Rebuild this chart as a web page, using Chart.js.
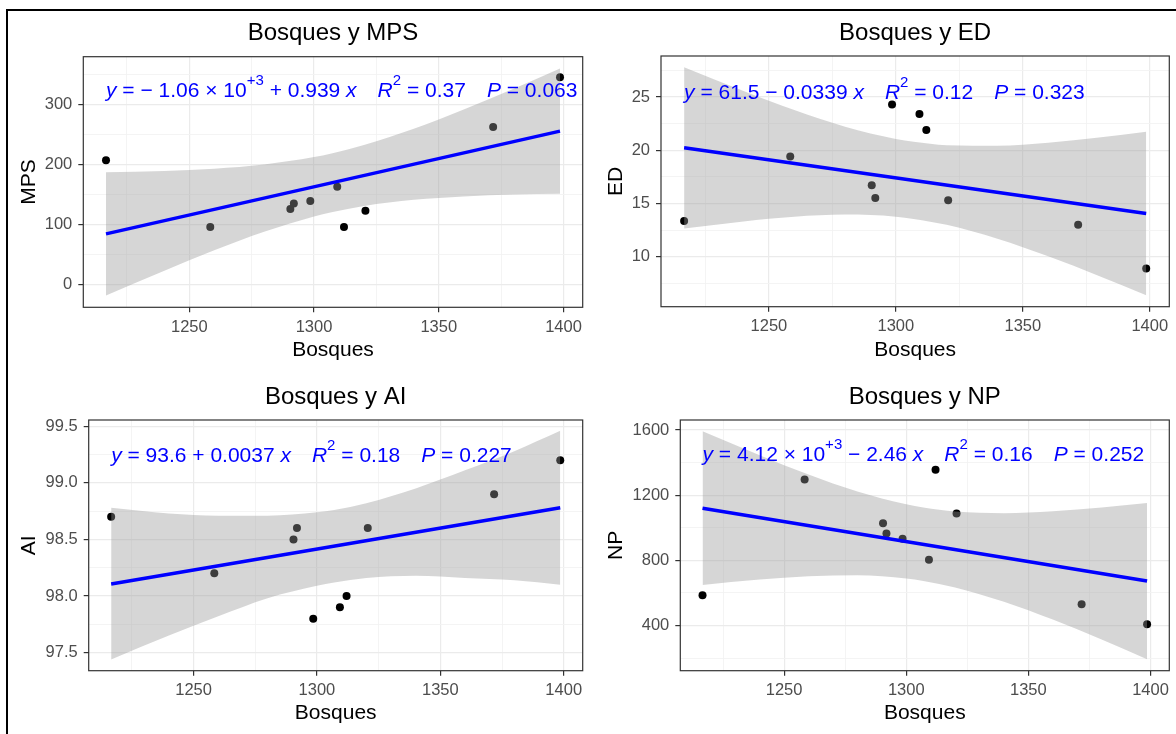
<!DOCTYPE html>
<html>
<head>
<meta charset="utf-8">
<script src="https://cdn.jsdelivr.net/npm/chart.js@4/dist/chart.umd.min.js"></script>
<style>
  body { margin: 0; background: #fff; }
  #page { position: relative; width: 1176px; height: 734px; overflow: hidden; background: #fff; }
  #frame { position: absolute; left: 6px; top: 9px; right: 0; bottom: 0;
           border-top: 2px solid #000; border-left: 2px solid #000; }
  canvas { position: absolute; }
</style>
</head>
<body>
<div id="page">
  <div id="frame"></div>
  <canvas id="c1" width="580" height="360" style="left:8px;top:12px"></canvas>
  <canvas id="c2" width="584" height="360" style="left:592px;top:12px"></canvas>
  <canvas id="c3" width="580" height="358" style="left:8px;top:376px"></canvas>
  <canvas id="c4" width="584" height="358" style="left:592px;top:376px"></canvas>
</div>
<script>
/******************** 1. DATA ********************/
const bosques = [1216.6, 1258.4, 1290.5, 1291.9, 1298.5, 1309.3, 1312, 1320.6, 1371.8, 1398.6];

const mps = [207, 96, 126, 135, 139, 163, 96, 123, 262, 345];
const ed  = [13.35, 19.4, 16.7, 15.5, 24.3, 23.4, 21.9, 15.3, 13.0, 8.9];
const ai  = [98.7, 98.2, 98.5, 98.6, 97.8, 97.9, 98.0, 98.6, 98.9, 99.2];
const np  = [585, 1296, 1027, 964, 933, 804, 1356, 1087, 530, 408];

// fitted line ends (read at first and last Bosques value)
const lineX = [1216.6, 1398.6];
const mpsLine = [84.5, 255.3];
const edLine  = [20.23, 14.06];
const aiLine  = [98.106, 98.78];
const npLine  = [1120, 673];

// confidence band
const bandX = [1216.6, 1240, 1260, 1280, 1300, 1307, 1320, 1340, 1360, 1380, 1398.6];
const mpsUpper = [187.0, 189.2, 192.9, 199.8, 212.1, 218.1, 232.1, 259.2, 291.2, 325.7, 359.5];
const mpsLower = [-17.7, 23.4, 57.3, 88.0, 113.3, 120.3, 130.9, 141.2, 146.8, 149.9, 151.2];
const edUpper  = [27.79, 25.57, 23.77, 22.21, 21.06, 20.79, 20.47, 20.42, 20.71, 21.19, 21.74];
const edLower  = [12.65, 13.31, 13.75, 13.95, 13.76, 13.55, 12.99, 11.68, 10.03, 8.19, 6.37];
const aiUpper  = [98.78, 98.73, 98.71, 98.71, 98.74, 98.76, 98.82, 98.95, 99.11, 99.28, 99.46];
const aiLower  = [97.44, 97.65, 97.82, 97.98, 98.09, 98.12, 98.16, 98.18, 98.16, 98.14, 98.10];
const npUpper  = [1591.8, 1445.5, 1326.7, 1222.5, 1143.6, 1124.2, 1100.0, 1089.6, 1100.8, 1124.2, 1151.7];
const npLower  = [648.8, 681.9, 702.3, 708.1, 688.6, 673.8, 633.8, 545.8, 436.2, 314.4, 193.5];

// ticks
const xMajor = [1250, 1300, 1350, 1400];
const xMinor = [1225, 1275, 1325, 1375];
const mpsMajor = [0, 100, 200, 300];
const mpsMinor = [50, 150, 250, 350];
const edMajor = [10, 15, 20, 25];
const edMinor = [7.5, 12.5, 17.5, 22.5, 27.5];
const aiMajor = [97.5, 98, 98.5, 99, 99.5];
const aiMinor = [97.75, 98.25, 98.75, 99.25];
const npMajor = [400, 800, 1200, 1600];
const npMinor = [200, 600, 1000, 1400];

// equation labels: [text, style]  n = normal, i = italic, s = superscript, g = gap
const mpsEq = [['y','i'],[' = \u2212 1.06 \u00d7 10','n'],['+3','s'],[' + 0.939 ','n'],['x','i'],['','g'],
               ['R','i'],['2','s'],[' = 0.37','n'],['','g'],['P','i'],[' = 0.063','n']];
const edEq  = [['y','i'],[' = 61.5 \u2212 0.0339 ','n'],['x','i'],['','g'],
               ['R','i'],['2','s'],[' = 0.12','n'],['','g'],['P','i'],[' = 0.323','n']];
const aiEq  = [['y','i'],[' = 93.6 + 0.0037 ','n'],['x','i'],['','g'],
               ['R','i'],['2','s'],[' = 0.18','n'],['','g'],['P','i'],[' = 0.227','n']];
const npEq  = [['y','i'],[' = 4.12 \u00d7 10','n'],['+3','s'],[' \u2212 2.46 ','n'],['x','i'],['','g'],
               ['R','i'],['2','s'],[' = 0.16','n'],['','g'],['P','i'],[' = 0.252','n']];

/******************** 2. HELPERS ********************/
const FONT = '"Liberation Sans", Arial, sans-serif';

function pts(xs, ys) {
  return xs.map((x, i) => ({ x: x, y: ys[i] }));
}

function decor(eq, labelX, labelY) {
  return {
    id: 'decor',
    afterDatasetsDraw(chart) {
      const { ctx, chartArea: a, scales } = chart;
      ctx.save();
      ctx.strokeStyle = '#333333';
      ctx.lineWidth = 1.2;
      ctx.strokeRect(a.left, a.top, a.right - a.left, a.bottom - a.top);

      let x = scales.x.getPixelForValue(labelX);
      const y = scales.y.getPixelForValue(labelY);
      ctx.fillStyle = '#0000FF';
      ctx.textBaseline = 'alphabetic';
      for (const [txt, st] of eq) {
        if (st === 'g') { x += 21; continue; }
        ctx.font = (st === 'i' ? 'italic ' : '') + (st === 's' ? '15px ' : '21px ') + FONT;
        ctx.fillText(txt, x, st === 's' ? y - 12 : y);
        x += ctx.measureText(txt).width;
      }
      ctx.restore();
    }
  };
}

function axis(major, minor, min, max, fmt, extra) {
  const all = major.concat(minor).sort((a, b) => a - b);
  const isMajor = v => major.includes(v);
  return Object.assign({
    type: 'linear',
    min: min,
    max: max,
    afterBuildTicks: s => { s.ticks = all.map(v => ({ value: v })); },
    border: { display: false },
    grid: {
      color: c => isMajor(c.tick.value) ? '#EBEBEB' : '#F3F3F3',
      lineWidth: c => isMajor(c.tick.value) ? 1.2 : 0.9,
      tickColor: c => isMajor(c.tick.value) ? '#333333' : 'rgba(0,0,0,0)',
      tickLength: 5
    },
    ticks: {
      autoSkip: false,
      maxRotation: 0,
      color: '#4D4D4D',
      font: { family: FONT, size: 16.5 },
      callback: v => isMajor(v) ? fmt(v) : ''
    }
  }, extra);
}

/******************** 3. PANELS ********************/
function panel(id, p) {
  const chart = new Chart(document.getElementById(id), {
    type: 'scatter',
    data: {
      datasets: [
        { data: pts(bosques, p.y), backgroundColor: '#000', borderWidth: 0,
          pointRadius: 4, order: 3 },
        { data: pts(bandX, p.upper), showLine: true, pointRadius: 0, borderWidth: 0,
          borderColor: 'rgba(0,0,0,0)', backgroundColor: 'rgba(153,153,153,0.4)',
          fill: '+1', cubicInterpolationMode: 'monotone', order: 2 },
        { data: pts(bandX, p.lower), showLine: true, pointRadius: 0, borderWidth: 0,
          borderColor: 'rgba(0,0,0,0)', fill: false,
          cubicInterpolationMode: 'monotone', order: 2 },
        { data: pts(lineX, p.line), showLine: true, pointRadius: 0, borderWidth: 3.5,
          borderColor: '#0000FF', fill: false, order: 1 }
      ]
    },
    options: {
      responsive: false,
      animation: false,
      layout: { padding: { left: 0, right: p.rightPad, top: 0, bottom: 0 } },
      plugins: {
        legend: { display: false },
        tooltip: { enabled: false },
        title: {
          display: true, text: p.title, color: '#000', fullSize: false,
          font: { family: FONT, size: 24, weight: 'normal' },
          padding: { top: 7.3, bottom: p.titleGap }
        }
      },
      scales: {
        x: axis(xMajor, xMinor, 1207.5, 1407.7, v => String(v), {
          afterFit: s => { s.height = p.xH; },
          title: { display: true, text: 'Bosques', color: '#000',
                   font: { family: FONT, size: 21 }, padding: { top: 0, bottom: p.xTitlePad } }
        }),
        y: axis(p.major, p.minor, p.min, p.max, p.fmt, {
          afterFit: s => { s.width = p.yW; },
          title: { display: true, text: p.label, color: '#000',
                   font: { family: FONT, size: 21 }, padding: { top: p.yTitlePad, bottom: 0 } }
        })
      }
    },
    plugins: [decor(p.eq, 1216.6, p.eqY)]
  });
  chart.options.scales.y.ticks.padding = 6;
  chart.options.scales.x.ticks.padding = 5;
  chart.update();
}

panel('c1', { title: 'Bosques y MPS', label: 'MPS', y: mps, line: mpsLine, upper: mpsUpper, lower: mpsLower,
  major: mpsMajor, minor: mpsMinor, min: -37.5, max: 379, fmt: v => String(v),
  eq: mpsEq, eqY: 312, rightPad: 5.3, titleGap: 8.6, xH: 64.7, yW: 75.3, xTitlePad: 9.4, yTitlePad: 8.4 });

panel('c2', { title: 'Bosques y ED', label: 'ED', y: ed, line: edLine, upper: edUpper, lower: edLower,
  major: edMajor, minor: edMinor, min: 5.3, max: 28.85, fmt: v => String(v),
  eq: edEq, eqY: 24.84, rightPad: 6.7, titleGap: 7.9, xH: 65.3, yW: 69, xTitlePad: 9.4, yTitlePad: 11.4 });

panel('c3', { title: 'Bosques y AI', label: 'AI', y: ai, line: aiLine, upper: aiUpper, lower: aiLower,
  major: aiMajor, minor: aiMinor, min: 97.34, max: 99.555, fmt: v => v.toFixed(1),
  eq: aiEq, eqY: 99.185, rightPad: 5.3, titleGap: 7.9, xH: 63.3, yW: 80.7, xTitlePad: 8.4, yTitlePad: 8.4 });

panel('c4', { title: 'Bosques y NP', label: 'NP', y: np, line: npLine, upper: npUpper, lower: npLower,
  major: npMajor, minor: npMinor, min: 122.5, max: 1661.5, fmt: v => String(v),
  eq: npEq, eqY: 1407, rightPad: 6.7, titleGap: 7.9, xH: 63.3, yW: 88.3, xTitlePad: 8.4, yTitlePad: 11.4 });
</script>
</body>
</html>
